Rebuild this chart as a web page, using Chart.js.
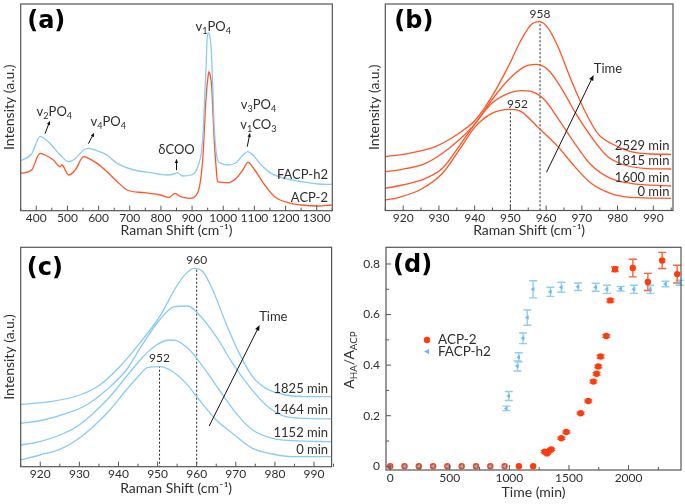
<!DOCTYPE html>
<html>
<head>
<meta charset="utf-8">
<script src="https://cdn.jsdelivr.net/npm/chart.js@4.4.1/dist/chart.umd.min.js"></script>
<style>
  body { margin: 0; background: #fff; }
  #wrap { position: relative; width: 685px; height: 504px; }
  #wrap canvas { position: absolute; left: 0; top: 0; }
</style>
</head>
<body>
<div id="wrap">
  <canvas id="chartA" width="685" height="504"></canvas>
  <canvas id="chartB" width="685" height="504"></canvas>
  <canvas id="chartC" width="685" height="504"></canvas>
  <canvas id="chartD" width="685" height="504"></canvas>
</div>
<script>
// ---- (a) full Raman spectra
const shiftFacp = [350,385,412,423,445,477,504,525,552,568,595,627,660,713,767,821,842,853,869,896,918,934,940,945,948,952,956,961,966,971,977,983,995,1014,1041,1063,1079,1095,1122,1154,1197,1251,1305,1348];
const facpSpec  = [50,56.7,74,73,67,55.7,49,52,60.7,62.3,60,55.7,47.3,40.7,38,35.7,36.7,38,34.7,35.7,44,70.7,110.7,144,170.7,178,175.7,164,127.3,84,60,50,47,45.7,48,55.7,59,55.7,45.7,37.3,32.3,29,26.7,26.3];
const shiftAcp  = [350,385,412,428,455,477,482,504,525,552,568,595,627,660,692,746,799,826,845,864,891,918,934,940,945,950,954,958,963,967,971,977,982,1014,1041,1063,1079,1101,1133,1165,1208,1251,1305,1348];
const acpSpec   = [37.3,40.7,57.3,55.7,50.7,44,45.7,35.7,40.7,54,52.3,47.3,39,29,20.7,18,15.7,13.3,17.3,14,12.3,18,50.7,84,114,130.7,139,135.7,124,97.3,70.7,44,29,28,32.3,40.7,48.3,40.7,25.7,14,8,5.7,4.7,5.7];
const ticksA = [400,500,600,700,800,900,1000,1100,1200,1300];
const minorA = [350,450,550,650,750,850,950,1050,1150,1250,1350];

// ---- (b) ACP-2 v1 band over time
const b0x    = [915,918.9,925,931,935.6,940.2,944.8,950,953,958,963.3,968,972.6,978,983.7,995];
const b0y    = [9.3,12,20,36,59,82.7,96,100,97.7,81,62.7,42.7,26,16,12,11];
const b1600x = [915,919.8,926.3,931,935.6,940.2,944.8,949.4,953,956,959.6,963.3,968,972.6,978,983.7,995];
const b1600y = [21,24.3,31,41,62.7,86,106,116,118.7,117.7,109.3,91,66,44.3,31,26,23.3];
const b1815x = [915,919.8,926.3,931,935.6,940.2,944.8,949.4,954,957.3,960.6,964.3,968,972.6,977.2,981.9,987.4,995];
const b1815y = [37.7,40,46,56,69.3,86,109.3,129.3,142.7,145,139.3,121,97.7,72.7,52.7,44.3,41,40.3];
const b2529x = [915,921.7,929,935.6,940.2,944.8,949.4,953,956,958.2,960.6,963.3,967,970.7,974.4,978.1,983.7,989.3,995];
const b2529y = [52.7,56,62.7,76,89.3,112.7,142.7,169.3,185.3,187.7,181,162.7,129.3,99.3,76,66,57.7,55.3,55];

// ---- (c) FACP-h2 v1 band over time
const c0x    = [915,919.9,925,929.3,933.5,937.8,942,945.4,947.5,950.5,953.9,957.3,960.7,965,969.2,974.3,979.4,984.5,995];
const c0y    = [6.7,11.7,17.3,26.7,40,56.7,76.7,91.7,99.3,100,95,83.3,66.7,46.7,33.3,18.3,12.7,10,10];
const c1152x = [915,919.9,925,929.3,933.5,937.8,942,946.3,949.7,953.1,954.8,958.2,961.6,965.8,970.1,974.3,979.4,984.5,995];
const c1152y = [21.7,25,31.7,40,53.3,70,90,110,121.7,126.7,126,116.7,100,76.7,53.3,36.7,28.3,26,25];
const c1464x = [915,920.8,926.7,931.8,936.9,942,946.3,950.5,954.3,957.7,960.7,965,969.2,973.5,977.7,982.8,987.9,995];
const c1464y = [43.3,46.7,53.3,61.7,76.7,96.7,123.3,146.7,160,160.7,151.7,130,103.3,80,61.7,50,48.3,47.7];
const c1825x = [915,922.5,930.1,935.2,940.3,945.4,950.5,954.8,957.3,959.4,961.6,964.1,967.5,970.9,974.3,977.7,982.8,987.9,995];
const c1825y = [62.3,65,71.7,81.7,100,123.3,150,180,193.3,198.3,195,176.7,143.3,113.3,90,78.3,71.7,70,70];
const ticksBC = [920,930,940,950,960,970,980,990];
const minorBC = [915,925,935,945,955,965,975,985,995];

// ---- (d) A_HA/A_ACP vs time
const acpTime  = [0,120,240,360,480,600,720,840,960,1080,1200,1296,1316,1338,1352,1436,1478,1598,1662,1705,1732,1746,1765,1813,1847,1886,2036,2162,2282,2408];
const acpRatio = [0,0,0,0,0,0,0,0,0,0,0,0.058,0.051,0.062,0.067,0.111,0.136,0.210,0.258,0.335,0.366,0.395,0.434,0.515,0.656,0.779,0.784,0.729,0.814,0.760];
const acpErr   = [0,0,0,0,0,0,0,0,0,0,0,0.004,0.004,0.004,0.004,0.004,0.004,0.004,0.004,0.005,0.005,0.005,0.006,0.005,0.006,0.009,0.035,0.034,0.032,0.035];
const facpTime  = [0,120,240,360,480,600,720,840,960,975,995,1068,1079,1115,1151,1199,1344,1436,1576,1724,1819,1933,2045,2182,2310,2427];
const facpRatio = [0,0,0,0,0,0,0,0,0,0.229,0.278,0.397,0.431,0.506,0.588,0.700,0.690,0.708,0.710,0.708,0.700,0.702,0.700,0.700,0.721,0.726];
const facpErr   = [0,0,0,0,0,0,0,0,0,0.009,0.018,0.02,0.018,0.021,0.03,0.034,0.018,0.02,0.015,0.016,0.016,0.009,0.016,0.016,0.011,0.01];
const ticksDx = [0,500,1000,1500,2000];
const minorDx = [250,750,1250,1750,2250];
const ticksDy = [0,0.2,0.4,0.6,0.8];
const minorDy = [0.1,0.3,0.5,0.7];

const FONT = 'Lato, "DejaVu Sans", sans-serif';
const INK = '#2e2e2e';
const RED = '#ff5527';
const BLUE = '#88cbf5';

function pts(xs, ys) { return xs.map((x, i) => ({ x, y: ys[i] })); }

// text with sub/superscripts: parts = [[text, 0|1(sub)|2(sup)], ...]
function rich(ctx, parts, x, y, size, align) {
  const fnt = s => s + 'px ' + FONT;
  let w = 0;
  parts.forEach(([t, k]) => { ctx.font = fnt(k ? size * 0.7 : size); w += ctx.measureText(t).width; });
  let cx = align === 'right' ? x - w : align === 'left' ? x : x - w / 2;
  ctx.textAlign = 'left';
  ctx.textBaseline = 'middle';
  parts.forEach(([t, k]) => {
    ctx.font = fnt(k ? size * 0.7 : size);
    const dy = k === 1 ? size * 0.32 : k === 2 ? -size * 0.35 : 0;
    ctx.fillText(t, cx, y + dy);
    cx += ctx.measureText(t).width;
  });
}

function arrow(ctx, x1, y1, x2, y2, head) {
  const a = Math.atan2(y2 - y1, x2 - x1);
  ctx.beginPath();
  ctx.moveTo(x1, y1);
  ctx.lineTo(x2 - Math.cos(a) * head * 0.6, y2 - Math.sin(a) * head * 0.6);
  ctx.stroke();
  ctx.beginPath();
  ctx.moveTo(x2, y2);
  ctx.lineTo(x2 - head * Math.cos(a - 0.38), y2 - head * Math.sin(a - 0.38));
  ctx.lineTo(x2 - head * Math.cos(a + 0.38), y2 - head * Math.sin(a + 0.38));
  ctx.closePath();
  ctx.fill();
}

// frame box, inward ticks and annotations (data coordinates)
const notesPlugin = {
  id: 'notes',
  afterDraw(chart, args, o) {
    const { ctx, chartArea: a, scales } = chart;
    const X = v => scales.x.getPixelForValue(v), Y = v => scales.y.getPixelForValue(v);
    ctx.save();
    ctx.strokeStyle = '#555';
    ctx.lineWidth = 1.2;
    ctx.strokeRect(a.left, a.top, a.right - a.left, a.bottom - a.top);
    ctx.lineWidth = 1;
    ctx.beginPath();
    const xt = (vals, len) => (vals || []).forEach(v => { const p = X(v); ctx.moveTo(p, a.bottom); ctx.lineTo(p, a.bottom - len); });
    const yt = (vals, len) => (vals || []).forEach(v => { const p = Y(v); ctx.moveTo(a.left, p); ctx.lineTo(a.left + len, p); });
    xt(o.xMajor, 5); xt(o.xMinor, 3);
    yt(o.yMajor, 5); yt(o.yMinor, 3);
    ctx.stroke();

    ctx.font = 'bold 24px "DejaVu Sans", sans-serif';
    ctx.textAlign = 'left';
    ctx.textBaseline = 'middle';
    ctx.fillStyle = '#000';
    ctx.fillText(o.panel, a.left + o.panelDx, a.top + o.panelDy);

    ctx.fillStyle = INK;
    (o.texts || []).forEach(t => rich(ctx, t.parts, X(t.x), Y(t.y), t.size || 13, t.align || 'center'));
    ctx.fillStyle = '#111';
    ctx.strokeStyle = '#111';
    (o.arrows || []).forEach(r => arrow(ctx, X(r.x1), Y(r.y1), X(r.x2), Y(r.y2), r.head || 5));
    if (o.yTitle) {
      ctx.save();
      ctx.fillStyle = INK;
      ctx.translate(o.yTitle.px, o.yTitle.py);
      ctx.rotate(-Math.PI / 2);
      rich(ctx, o.yTitle.parts, 0, 0, 14, 'center');
      ctx.restore();
    }
    (o.legend || []).forEach(l => {
      ctx.fillStyle = l.color;
      ctx.beginPath();
      if (l.shape === 'tri') {
        ctx.moveTo(l.px - 3, l.py); ctx.lineTo(l.px + 2, l.py - 2.8); ctx.lineTo(l.px + 2, l.py + 2.8);
      } else {
        ctx.arc(l.px, l.py, 3.2, 0, Math.PI * 2);
      }
      ctx.fill();
      ctx.fillStyle = INK;
      rich(ctx, [[l.text, 0]], l.px + 11, l.py, 13.5, 'left');
    });
    ctx.restore();
  }
};

// error bars for scatter datasets
const errPlugin = {
  id: 'errbars',
  beforeDatasetsDraw(chart) {
    const { ctx, scales } = chart;
    ctx.save();
    chart.data.datasets.forEach(ds => {
      if (!ds.err) return;
      ctx.strokeStyle = ds.errColor;
      ctx.lineWidth = 1.4;
      ctx.beginPath();
      ds.data.forEach((p, j) => {
        const e = ds.err[j];
        if (!e) return;
        const x = scales.x.getPixelForValue(p.x);
        const y1 = scales.y.getPixelForValue(p.y - e), y2 = scales.y.getPixelForValue(p.y + e);
        ctx.moveTo(x, y1); ctx.lineTo(x, y2);
        ctx.moveTo(x - 4, y1); ctx.lineTo(x + 4, y1);
        ctx.moveTo(x - 4, y2); ctx.lineTo(x + 4, y2);
      });
      ctx.stroke();
    });
    ctx.restore();
  }
};

// chart area placement: area edges, x title centre y, left edge of y axis box
function place(area, xTitleY, yLeft) {
  const bottom = xTitleY + 8.4;
  return {
    padding: { left: yLeft, top: area.t, right: 685 - area.r, bottom: 504 - bottom },
    xH: bottom - area.b,
    yW: area.l - yLeft
  };
}

const plain = v => String(v);

function spectrumOptions(area, xTitleY, yLeft, xr, yr, ticks, notes) {
  const L = place(area, xTitleY, yLeft);
  return {
    responsive: false,
    animation: false,
    layout: { padding: L.padding },
    elements: { point: { radius: 0 } },
    scales: {
      x: {
        type: 'linear', min: xr[0], max: xr[1],
        afterBuildTicks: s => { s.ticks = ticks.map(v => ({ value: v })); },
        afterFit: s => { s.height = L.xH; },
        grid: { display: false, drawTicks: false },
        border: { display: false },
        ticks: { padding: 0.5, color: INK, font: { family: FONT, size: 12 }, maxRotation: 0, autoSkip: false, callback: plain },
        title: { display: true, text: 'Raman Shift (cm\u207B\u00B9)', color: INK, padding: 0, font: { family: FONT, size: 14 } }
      },
      y: {
        min: yr[0], max: yr[1],
        afterFit: s => { s.width = L.yW; },
        grid: { display: false, drawTicks: false },
        border: { display: false },
        ticks: { display: false },
        title: { display: true, text: 'Intensity (a.u.)', color: INK, padding: 0, font: { family: FONT, size: 14 } }
      }
    },
    plugins: { legend: { display: false }, tooltip: { enabled: false }, notes }
  };
}

function line(data, color, extra) {
  return Object.assign({ data, borderColor: color, borderWidth: 1.3, cubicInterpolationMode: 'monotone', fill: false }, extra || {});
}
const dashed = (x, top) => line([{ x, y: -5 }, { x, y: top }], '#222', { borderWidth: 1, borderDash: [2, 2], cubicInterpolationMode: 'default' });

// ---------- (a)
new Chart(document.getElementById('chartA'), {
  type: 'line',
  data: { datasets: [line(pts(shiftFacp, facpSpec), BLUE), line(pts(shiftAcp, acpSpec), RED)] },
  options: spectrumOptions({ l: 20.7, t: 4, r: 332.3, b: 210.7 }, 230.5, 0.6, [350, 1350], [0, 206.7], ticksA, {
    xMajor: ticksA, xMinor: minorA,
    panel: '(a)', panelDx: 6.5, panelDy: 17.5,
    texts: [
      { x: 968, y: 184, parts: [['v', 0], ['1', 1], ['PO', 0], ['4', 1]] },
      { x: 458, y: 99, parts: [['v', 0], ['2', 1], ['PO', 0], ['4', 1]] },
      { x: 631, y: 89, parts: [['v', 0], ['4', 1], ['PO', 0], ['4', 1]] },
      { x: 850, y: 61, parts: [['\u03B4COO', 0]] },
      { x: 1113, y: 106, parts: [['v', 0], ['3', 1], ['PO', 0], ['4', 1]] },
      { x: 1113, y: 86, parts: [['v', 0], ['1', 1], ['CO', 0], ['3', 1]] },
      { x: 1336, y: 35.7, parts: [['FACP-h2', 0]], align: 'right' },
      { x: 1336, y: 12.4, parts: [['ACP-2', 0]], align: 'right' }
    ],
    arrows: [
      { x1: 428, y1: 77, x2: 444, y2: 90, head: 4.5 },
      { x1: 567, y1: 67, x2: 586, y2: 78, head: 4.5 },
      { x1: 850, y1: 40.5, x2: 850, y2: 52, head: 4.5 },
      { x1: 1077, y1: 64, x2: 1086, y2: 78, head: 4.5 }
    ]
  }),
  plugins: [notesPlugin]
});

// ---------- (b)
new Chart(document.getElementById('chartB'), {
  type: 'line',
  data: {
    datasets: [
      line(pts(b0x, b0y), RED), line(pts(b1600x, b1600y), RED),
      line(pts(b1815x, b1815y), RED), line(pts(b2529x, b2529y), RED),
      dashed(950, 100), dashed(958.3, 188)
    ]
  },
  options: spectrumOptions({ l: 385.3, t: 4, r: 673, b: 210.5 }, 230, 366.1, [915, 995.5], [-1.2, 205.3], ticksBC, {
    xMajor: ticksBC, xMinor: minorBC,
    panel: '(b)', panelDx: 9, panelDy: 17.5,
    texts: [
      { x: 958.3, y: 195.5, parts: [['958', 0]], size: 12 },
      { x: 952, y: 105.5, parts: [['952', 0]], size: 12 },
      { x: 977.3, y: 140, parts: [['Time', 0]] },
      { x: 994.5, y: 63.7, parts: [['2529 min', 0]], align: 'right' },
      { x: 994.5, y: 48.3, parts: [['1815 min', 0]], align: 'right' },
      { x: 994.5, y: 31, parts: [['1600 min', 0]], align: 'right' },
      { x: 994.5, y: 17, parts: [['0 min', 0]], align: 'right' }
    ],
    arrows: [{ x1: 960.1, y1: 37, x2: 973.3, y2: 134.3, head: 6 }]
  }),
  plugins: [notesPlugin]
});

// ---------- (c)
new Chart(document.getElementById('chartC'), {
  type: 'line',
  data: {
    datasets: [
      line(pts(c0x, c0y), BLUE), line(pts(c1152x, c1152y), BLUE),
      line(pts(c1464x, c1464y), BLUE), line(pts(c1825x, c1825y), BLUE),
      dashed(950.5, 100), dashed(960, 198.3)
    ]
  },
  options: spectrumOptions({ l: 20.7, t: 247.3, r: 331.6, b: 466.7 }, 488.5, 0.6, [915, 994.5], [0, 219.4], ticksBC, {
    xMajor: ticksBC, xMinor: minorBC,
    panel: '(c)', panelDx: 6, panelDy: 21,
    texts: [
      { x: 960, y: 206.7, parts: [['960', 0]], size: 12 },
      { x: 950.5, y: 108.3, parts: [['952', 0]], size: 12 },
      { x: 979.6, y: 150, parts: [['Time', 0]] },
      { x: 993.6, y: 78.3, parts: [['1825 min', 0]], align: 'right' },
      { x: 993.6, y: 56.7, parts: [['1464 min', 0]], align: 'right' },
      { x: 993.6, y: 34, parts: [['1152 min', 0]], align: 'right' },
      { x: 993.6, y: 16.7, parts: [['0 min', 0]], align: 'right' }
    ],
    arrows: [{ x1: 963.2, y1: 40.7, x2: 976.1, y2: 141.7, head: 6 }]
  }),
  plugins: [notesPlugin]
});

// ---------- (d)
const LD = place({ l: 386, t: 247.3, r: 681.7, b: 470 }, 492, 350);
new Chart(document.getElementById('chartD'), {
  type: 'scatter',
  data: {
    datasets: [
      {
        label: 'FACP-h2', data: pts(facpTime, facpRatio), err: facpErr, errColor: '#8fcdf3',
        pointStyle: 'triangle', rotation: -90, radius: 2.6, backgroundColor: '#6fbaf0', borderWidth: 0
      },
      {
        label: 'ACP-2', data: pts(acpTime, acpRatio), err: acpErr, errColor: '#ff6236',
        pointStyle: 'circle', radius: 3.2, backgroundColor: '#ff3d0c', borderWidth: 0
      }
    ]
  },
  options: {
    responsive: false,
    animation: false,
    layout: { padding: LD.padding },
    scales: {
      x: {
        type: 'linear', min: -35, max: 2440,
        afterBuildTicks: s => { s.ticks = ticksDx.map(v => ({ value: v })); },
        afterFit: s => { s.height = LD.xH; },
        grid: { display: false, drawTicks: false },
        border: { display: false },
        ticks: { padding: 0.5, color: INK, font: { family: FONT, size: 12 }, maxRotation: 0, autoSkip: false, callback: plain },
        title: { display: true, text: 'Time (min)', color: INK, padding: 0, font: { family: FONT, size: 14 } }
      },
      y: {
        min: -0.0146, max: 0.866,
        afterBuildTicks: s => { s.ticks = ticksDy.map(v => ({ value: v })); },
        afterFit: s => { s.width = LD.yW; },
        grid: { display: false, drawTicks: false },
        border: { display: false },
        ticks: { padding: 6, color: INK, font: { family: FONT, size: 12 }, callback: plain }
      }
    },
    plugins: {
      legend: { display: false },
      tooltip: { enabled: false },
      notes: {
        xMajor: ticksDx, xMinor: minorDx, yMajor: ticksDy, yMinor: minorDy,
        panel: '(d)', panelDx: 7, panelDy: 18,
        yTitle: { px: 349, py: 360, parts: [['A', 0], ['HA', 1], ['/A', 0], ['ACP', 1]] },
        legend: [
          { px: 427, py: 340, color: '#ff3d0c', shape: 'dot', text: 'ACP-2' },
          { px: 427, py: 351.5, color: '#6fbaf0', shape: 'tri', text: 'FACP-h2' }
        ]
      }
    }
  },
  plugins: [errPlugin, notesPlugin]
});
</script>
</body>
</html>
